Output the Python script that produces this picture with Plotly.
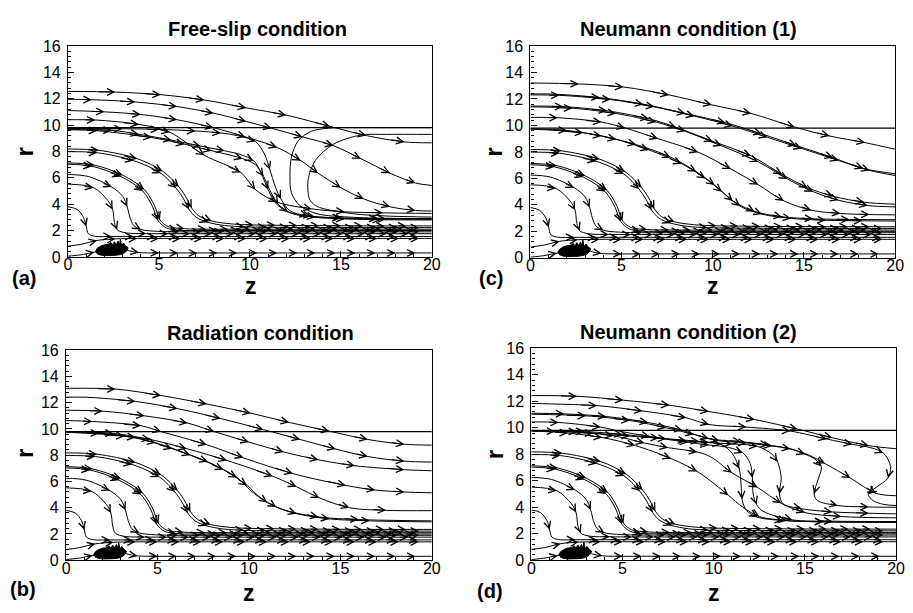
import plotly.graph_objects as go

FONT = "Liberation Sans, Arial, Helvetica, sans-serif"

# ---------------- data (z, r) ----------------
# boundary line (horizontal wall) present in every panel
WALL_R = 9.8

# streamlines shared by all four panels (lower-left region)
C1A = [(0, 8.18), (1.7, 8.08), (3.8, 7.45), (5.2, 6.5), (6.1, 5.3), (6.5, 4.5), (6.8, 3.7), (7.2, 3.1), (7.9, 2.72),
       (9.0, 2.5), (10.2, 2.42), (11.4, 2.4), (12.6, 2.38), (13.8, 2.37), (15.0, 2.36), (16.2, 2.35), (17.4, 2.35),
       (18.6, 2.35), (20, 2.35)]
C1B = [(0, 7.98), (1.6, 7.9), (3.6, 7.3), (5.1, 6.35), (5.95, 5.2), (6.35, 4.4), (6.65, 3.6), (7.05, 3.0), (7.7, 2.62),
       (8.6, 2.38), (9.7, 2.28), (10.9, 2.25), (12.1, 2.24), (13.3, 2.23), (14.5, 2.22), (15.7, 2.22), (16.9, 2.22),
       (18.1, 2.22), (19.3, 2.22), (20, 2.22)]
C2A = [(0, 7.13), (1.45, 6.96), (3.0, 6.2), (4.2, 5.1), (4.75, 3.9), (5.05, 2.8), (5.5, 2.3), (6.4, 2.14), (7.6, 2.1),
       (8.8, 2.1), (10.0, 2.1), (11.2, 2.1), (12.4, 2.1), (13.6, 2.1), (14.8, 2.1), (16.0, 2.1), (17.2, 2.1),
       (18.4, 2.1), (19.4, 2.1), (20, 2.1)]
C2B = [(0, 7.03), (1.3, 6.88), (2.9, 6.1), (4.1, 5.0), (4.65, 3.8), (4.95, 2.75), (5.4, 2.2), (6.0, 2.03), (7.0, 2.0),
       (8.2, 2.0), (9.4, 2.0), (10.6, 2.0), (11.8, 2.0), (13.0, 2.0), (14.2, 2.0), (15.4, 2.0), (16.6, 2.0),
       (17.8, 2.0), (19.0, 2.0), (20, 2.0)]
C3 = [(0, 6.25), (1.1, 6.1), (2.4, 5.3), (3.0, 4.6), (3.25, 3.8), (3.4, 3.0), (3.6, 2.4), (4.0, 2.08), (4.9, 1.94),
      (6.1, 1.9), (7.3, 1.9), (8.5, 1.9), (9.7, 1.9), (10.9, 1.9), (12.1, 1.9), (13.3, 1.9), (14.5, 1.9), (15.7, 1.9),
      (16.9, 1.9), (18.1, 1.9), (19.3, 1.9), (20, 1.9)]
C4 = [(0, 5.52), (1.4, 5.25), (2.2, 4.25), (2.45, 3.6), (2.55, 2.6), (2.7, 2.05), (3.2, 1.82), (4.3, 1.77), (5.5, 1.76),
      (6.7, 1.76), (7.9, 1.76), (9.1, 1.76), (10.3, 1.76), (11.5, 1.76), (12.7, 1.76), (13.9, 1.76), (15.1, 1.76),
      (16.3, 1.76), (17.5, 1.76), (18.7, 1.76), (20, 1.76)]
C5 = [(0, 3.8), (0.5, 3.6), (0.85, 3.0), (1.0, 2.3), (1.12, 1.75), (1.5, 1.56), (2.4, 1.55), (3.6, 1.55), (4.8, 1.55),
      (6.0, 1.55), (7.2, 1.55), (8.4, 1.55), (9.6, 1.55), (10.8, 1.55), (12.0, 1.55), (13.2, 1.55), (14.4, 1.55),
      (15.6, 1.55), (16.8, 1.55), (18.0, 1.55), (19.2, 1.55), (20, 1.55)]
D1 = [(0, 0.82), (0.7, 0.95), (1.6, 1.25), (2.6, 1.37), (3.8, 1.4), (5.0, 1.4), (6.2, 1.4), (7.4, 1.4), (8.6, 1.4),
      (9.8, 1.4), (11.0, 1.4), (12.2, 1.4), (13.4, 1.4), (14.6, 1.4), (15.8, 1.4), (17.0, 1.4), (18.2, 1.4),
      (19.3, 1.4), (20, 1.4)]
D2 = [(0, 0.05), (0.8, 0.18), (1.45, 0.36), (2.2, 0.45), (3.0, 0.62), (3.4, 0.45), (3.9, 0.33), (5.0, 0.3),
      (6.05, 0.3), (7.1, 0.3), (8.2, 0.3), (9.3, 0.3), (10.4, 0.3), (11.5, 0.3), (12.6, 0.3), (13.6, 0.3),
      (14.7, 0.3), (15.8, 0.3), (16.9, 0.3), (18.0, 0.3), (19.1, 0.3), (20, 0.3)]
COMMON_LINES = [C1A, C1B, C2A, C2B, C3, C4, C5, D1, D2]
NEAR_AXIS_LINES = [D1, D2]   # these carry more closely spaced arrowheads

# small recirculation blob near the axis
BLOB_Z = [1.5, 1.6, 1.8, 2.0, 2.2, 2.35, 2.45, 2.55, 2.65, 2.75, 2.82, 2.88, 2.92, 2.96, 3.05, 3.15, 3.3, 3.25,
          3.1, 2.9, 2.6, 2.3, 2.0, 1.75, 1.58]
BLOB_R = [0.4, 0.65, 0.82, 0.92, 0.95, 1.1, 0.9, 1.15, 0.92, 1.2, 0.9, 1.35, 1.0, 0.9, 1.05, 0.85, 0.7, 0.5,
          0.3, 0.18, 0.12, 0.1, 0.1, 0.15, 0.25]

# (a) Free-slip condition
A_A1 = [(0, 12.55), (2.6, 12.5), (5.1, 12.3), (7.5, 11.9), (9.8, 11.3), (12.0, 10.75), (14.4, 9.9), (16.4, 9.2),
        (18.5, 8.72), (20, 8.65)]
A_A2 = [(0, 11.95), (1.3, 11.92), (3.7, 11.75), (6.0, 11.4), (8.0, 10.9), (9.8, 10.27), (11.2, 9.75), (12.9, 9.1),
        (14.6, 8.43), (16.1, 7.45), (17.7, 6.35), (19.1, 5.6), (20, 5.42)]
A_A3 = [(0, 11.1), (2.0, 11.0), (4.0, 10.8), (6.0, 10.4), (8.0, 9.8), (9.76, 9.1), (11.5, 8.3), (12.8, 7.3),
        (13.75, 6.35), (15.0, 5.25), (16.25, 4.4), (17.7, 3.8), (19.1, 3.52), (20, 3.48)]
A_A4 = [(0, 10.4), (1.5, 10.38), (3.9, 10.05), (5.6, 9.45), (7.5, 7.7), (9.5, 6.4), (10.3, 5.1), (11.5, 4.15),
        (13.4, 3.64), (15.2, 3.42), (17.3, 3.34), (20, 3.3)]
A_B1 = [(0, 9.68), (2.4, 9.6), (3.9, 9.3), (5.7, 8.85), (7.3, 8.4), (8.6, 8.05), (9.5, 7.75), (10.2, 7.3),
        (10.6, 6.4), (11.0, 5.1), (11.4, 4.1), (12.1, 3.4), (13.4, 3.08), (15.0, 2.95), (17.0, 2.9), (20, 2.88)]
A_B2 = [(0, 9.64), (1.6, 9.57), (4.6, 9.05), (6.4, 8.55), (7.9, 8.05), (8.9, 7.72), (9.6, 7.45), (10.3, 7.0),
        (10.75, 6.1), (11.15, 4.9), (11.55, 4.0), (12.3, 3.3), (13.6, 3.0), (15.2, 2.88), (17.2, 2.82), (20, 2.8)]
A_B3 = [(0, 9.74), (3.0, 9.72), (5.0, 9.67), (7.0, 9.55), (8.4, 9.4), (9.3, 9.2), (10.3, 8.75), (10.8, 7.8),
        (11.1, 6.6), (11.4, 5.3), (11.7, 4.4), (12.2, 3.5), (13.2, 3.1), (15.0, 2.95), (17.5, 2.88), (20, 2.85)]
A_L1 = [(20, 9.8), (17.5, 9.8), (15.5, 9.8), (14.6, 9.79), (13.4, 9.54), (12.65, 8.8), (12.28, 7.57), (12.2, 6.1),
        (12.28, 4.87), (12.74, 3.89), (13.7, 3.27), (15.7, 3.0), (18.0, 2.92), (20, 2.9)]
A_L2 = [(20, 9.29), (17.5, 9.29), (16.1, 9.24), (14.6, 8.55), (13.6, 7.32), (13.2, 5.85), (13.28, 4.37), (13.6, 3.9),
        (14.1, 3.64), (15.7, 3.27), (17.5, 3.1), (20, 3.02)]

# (c) Neumann condition (1)
C_A1 = [(0, 13.2), (2.65, 13.13), (5.1, 12.9), (7.6, 12.3), (9.95, 11.55), (12.1, 10.9), (14.5, 9.87), (16.4, 9.2),
        (18.35, 8.7), (20, 8.2)]
C_A2 = [(0, 12.37), (1.1, 12.37), (3.8, 12.1), (6.2, 11.6), (8.5, 10.9), (10.7, 10.2), (12.7, 9.35), (14.6, 8.47),
        (16.6, 7.56), (18.25, 6.75), (20, 6.35)]
C_A2B = [(0, 12.3), (1.6, 12.27), (4.4, 11.95), (6.8, 11.4), (9.0, 10.7), (11.1, 9.95), (13.0, 9.1), (14.9, 8.25),
         (16.9, 7.35), (18.6, 6.6), (20, 6.22)]
C_A3 = [(0, 11.46), (1.8, 11.42), (4.2, 11.1), (6.5, 10.5), (8.0, 9.85), (10.0, 8.8), (12.1, 7.7), (13.8, 6.3),
        (15.2, 5.3), (16.6, 4.65), (18.3, 4.2), (20, 4.05)]
C_A3B = [(0, 11.4), (2.3, 11.3), (4.7, 10.9), (6.9, 10.25), (8.5, 9.55), (10.5, 8.45), (12.5, 7.25), (14.1, 5.95),
         (15.5, 5.0), (16.9, 4.35), (18.5, 3.95), (20, 3.85)]
C_A4 = [(0, 10.6), (1.5, 10.58), (3.9, 10.25), (5.2, 9.8), (7.0, 9.0), (9.2, 7.98), (11.0, 6.7), (12.5, 5.52),
        (13.9, 4.3), (15.4, 3.6), (17.0, 3.35), (18.6, 3.27), (20, 3.25)]
C_B1 = [(0, 9.75), (2.0, 9.62), (3.9, 9.2), (5.8, 8.55), (7.7, 7.6), (9.1, 6.5), (10.1, 5.5), (11.1, 4.3),
        (12.3, 3.5), (13.8, 3.1), (15.5, 2.95), (17.5, 2.9), (20, 2.88)]
C_B1B = [(0, 9.72), (2.9, 9.45), (4.7, 8.95), (6.5, 8.15), (8.3, 7.1), (9.6, 6.0), (10.5, 5.0), (11.5, 3.9),
         (12.7, 3.3), (14.3, 2.98), (16.2, 2.84), (18.2, 2.8), (20, 2.78)]

# (b) Radiation condition
B_A1 = [(0, 13.1), (2.7, 13.04), (5.2, 12.55), (7.7, 11.9), (10.1, 11.2), (12.2, 10.5), (14.4, 9.83), (16.5, 9.2),
        (18.5, 8.84), (20, 8.77)]
B_A2 = [(0, 12.42), (1.1, 12.42), (3.8, 12.1), (6.1, 11.55), (8.45, 10.8), (10.8, 9.95), (12.8, 9.2), (14.75, 8.47),
        (16.5, 7.9), (18.5, 7.55), (20, 7.48)]
B_A3 = [(0, 11.43), (2.0, 11.36), (4.3, 11.0), (6.65, 10.45), (8.1, 9.8), (10.0, 9.0), (11.9, 8.25), (13.8, 7.65),
        (15.8, 7.2), (18.5, 6.9), (20, 6.82)]
B_A4 = [(0, 10.64), (1.44, 10.57), (4.1, 10.25), (5.2, 9.8), (7.7, 8.8), (9.7, 7.8), (12.4, 6.6), (15.3, 5.7),
        (16.9, 5.35), (18.5, 5.2), (20, 5.14)]
B_B1 = [(0, 9.8), (2.6, 9.66), (4.6, 9.2), (6.6, 8.5), (8.8, 7.6), (11.3, 6.4), (12.6, 5.6), (13.85, 4.75),
        (15.5, 4.0), (17.5, 3.8), (20, 3.78)]
B_B2 = [(0, 9.78), (1.8, 9.67), (3.8, 9.35), (5.8, 8.5), (7.75, 7.5), (9.35, 6.3), (10.1, 5.3), (11.0, 4.4),
        (12.0, 3.8), (13.8, 3.3), (16.0, 3.1), (20, 3.0)]
B_B2B = [(0, 9.75), (3.2, 9.45), (4.9, 8.95), (6.8, 8.0), (8.6, 6.9), (9.9, 5.7), (10.6, 4.8), (11.5, 4.05),
         (12.6, 3.55), (14.4, 3.15), (16.6, 3.0), (20, 2.92)]

# (d) Neumann condition (2)
D_A1 = [(0, 12.43), (2.5, 12.38), (5.05, 12.08), (7.57, 11.7), (9.73, 11.23), (12.25, 10.62), (14.6, 9.9),
        (16.5, 9.25), (18.5, 8.65), (20, 8.42)]
D_A2 = [(0, 11.84), (1.1, 11.8), (3.6, 11.67), (6.1, 11.27), (8.5, 10.75), (9.73, 10.25), (11.8, 10.05),
        (14.2, 9.75), (16.2, 9.15), (17.6, 8.75), (18.6, 8.5), (19.3, 8.1), (19.7, 7.07), (19.55, 6.2), (18.9, 5.5),
        (18.47, 4.99), (18.74, 4.5), (19.3, 4.22), (20, 4.13)]
D_A3 = [(0, 11.1), (1.8, 11.05), (4.1, 10.85), (6.4, 10.4), (8.3, 9.8), (9.73, 9.17), (11.5, 8.95), (13.0, 8.7),
        (14.2, 8.4), (15.2, 7.95), (16.1, 7.3), (17.5, 6.2), (18.9, 5.05), (20, 4.87)]
D_A3B = [(0, 11.02), (3.0, 10.9), (5.4, 10.55), (7.4, 10.0), (8.9, 9.5), (10.3, 9.02), (11.8, 8.85), (13.2, 8.62),
         (14.2, 8.42), (15.0, 8.0), (15.5, 7.68), (15.9, 7.07), (15.75, 6.2), (15.5, 5.0), (15.7, 4.5), (16.8, 4.13),
         (18.5, 4.02), (20, 4.0)]
D_A4 = [(0, 10.44), (1.5, 10.4), (3.8, 10.05), (4.8, 9.75), (6.5, 9.35), (8.5, 9.0), (9.73, 8.88), (11.0, 8.78),
        (12.4, 8.6), (13.2, 8.0), (13.5, 7.43), (13.7, 6.2), (13.6, 5.0), (13.8, 4.26), (14.8, 3.89), (16.5, 3.65),
        (18.5, 3.55), (20, 3.5)]
D_S2 = [(0, 9.78), (2.9, 9.72), (5.0, 9.5), (7.0, 9.2), (8.6, 8.9), (9.73, 8.7), (10.8, 8.52), (11.6, 8.1),
        (12.0, 7.3), (12.12, 6.2), (12.16, 5.0), (12.35, 4.2), (12.7, 3.7), (14.3, 3.05), (16.5, 2.95), (20, 2.92)]
D_S1 = [(0, 9.76), (1.3, 9.73), (3.4, 9.58), (5.4, 9.37), (7.4, 9.17), (9.2, 8.97), (10.4, 8.75), (11.0, 8.1),
        (11.4, 6.9), (11.5, 5.7), (11.55, 4.6), (11.8, 3.75), (12.4, 3.25), (13.8, 3.0), (16.0, 2.9), (20, 2.88)]
D_B1 = [(0, 9.76), (2.0, 9.6), (3.87, 9.27), (5.7, 8.66), (7.66, 7.68), (9.1, 6.7), (10.0, 5.8), (10.8, 4.9),
        (11.6, 4.0), (12.5, 3.3), (14.0, 3.0), (16.0, 2.9), (20, 2.85)]
D_B2 = [(0, 9.78), (2.5, 9.7), (4.5, 9.4), (6.2, 8.85), (7.5, 8.5), (9.1, 8.17), (9.84, 7.8), (11.0, 6.6),
        (12.4, 5.5), (13.7, 4.3), (15.0, 3.6), (17.0, 3.3), (20, 3.2)]

PANEL_TITLES = ["Free-slip condition", "Neumann condition (1)", "Radiation condition", "Neumann condition (2)"]
PANEL_TAGS = ["(a)", "(c)", "(b)", "(d)"]
X_TICKS = [0, 5, 10, 15, 20]
Y_TICKS = [0, 2, 4, 6, 8, 10, 12, 14, 16]

PANEL_LINES = [
    [A_A1, A_A2, A_A3, A_A4, A_B1, A_B2, A_B3],
    [C_A1, C_A2, C_A2B, C_A3, C_A3B, C_A4, C_B1, C_B1B],
    [B_A1, B_A2, B_A3, B_A4, B_B1, B_B2, B_B2B],
    [D_A1, D_A2, D_A3, D_A3B, D_A4, D_S2, D_S1, D_B1, D_B2],
]
PANEL_LOOPS = [[A_L1, A_L2], [], [], []]

# ---------------- layout geometry (pixels of the 913x613 page) ----------------
W, H = 913, 613
BOXES = [  # left, right, top, bottom
    (65, 434, 39, 256),
    (534, 904, 39, 257),
    (63, 434, 352, 568),
    (535, 905, 350, 568),
]
TITLE_POS = [(257, 22), (694, 22), (260, 334), (694, 333)]
TAG_POS = [(20, 278), (494, 278), (19, 598), (493, 600)]
ZLAB_POS = [(251, 286), (719, 286), (249, 602), (720, 602)]
RLAB_POS = [(21, 148), (497, 148), (21, 458), (497, 459)]

SX = 369 / 20.0
SY = 217 / 16.0
TAIL_FRAC = 0.35


def arrow_indices(pts, gap):
    idx = []
    acc = 0.0
    for i in range(1, len(pts)):
        dz = (pts[i][0] - pts[i - 1][0]) * SX
        dr = (pts[i][1] - pts[i - 1][1]) * SY
        acc += (dz * dz + dr * dr) ** 0.5
        if i < len(pts) - 1 and acc >= gap:
            idx.append(i)
            acc = 0.0
    return idx


fig = go.Figure()
annotations = []


def add_stream(pts, xa, ya, arrows=True, gap=21):
    z = [p[0] for p in pts]
    r = [p[1] for p in pts]
    fig.add_trace(go.Scatter(
        x=z, y=r, xaxis=xa, yaxis=ya, mode="lines",
        line=dict(color="black", width=1, shape="spline", smoothing=0.9),
        hoverinfo="skip", showlegend=False))
    if not arrows:
        return
    for i in arrow_indices(pts, gap):
        annotations.append(dict(
            x=z[i], y=r[i], ax=z[i] - TAIL_FRAC * (z[i] - z[i - 1]), ay=r[i] - TAIL_FRAC * (r[i] - r[i - 1]),
            xref=xa, yref=ya, axref=xa, ayref=ya, showarrow=True, arrowhead=5, arrowsize=1.35,
            arrowwidth=1, arrowcolor="black", standoff=0, startstandoff=0, text=" ",
            font=dict(size=1), borderpad=0, borderwidth=0))


for k in range(4):
    sfx = "" if k == 0 else str(k + 1)
    xa, ya = "x" + sfx, "y" + sfx
    # wall line
    fig.add_trace(go.Scatter(x=[X_TICKS[0], X_TICKS[-1]], y=[WALL_R, WALL_R], xaxis=xa, yaxis=ya, mode="lines",
                             line=dict(color="black", width=1.3), hoverinfo="skip", showlegend=False))
    for pts in COMMON_LINES + PANEL_LINES[k]:
        add_stream(pts, xa, ya, gap=17 if any(pts is q for q in NEAR_AXIS_LINES) else 21)
    for pts in PANEL_LOOPS[k]:
        add_stream(pts, xa, ya, arrows=False)
    fig.add_trace(go.Scatter(x=BLOB_Z, y=BLOB_R, xaxis=xa, yaxis=ya, mode="lines", fill="toself",
                             fillcolor="black", line=dict(color="black", width=1),
                             hoverinfo="skip", showlegend=False))

    L, R, T, B = BOXES[k]
    common_ax = dict(showgrid=False, zeroline=False, showline=True, linecolor="black", linewidth=1.3, mirror=True,
                     ticks="inside", ticklen=6, tickwidth=1, tickcolor="black",
                     tickfont=dict(family=FONT, size=16, color="black"))
    fig.layout["xaxis" + sfx] = dict(
        domain=[L / W, R / W], anchor=ya, range=[0, 20], tickvals=X_TICKS, ticklabelstandoff=-7,
        minor=dict(ticks="inside", ticklen=3, dtick=1, tickcolor="black", tickwidth=1), **common_ax)
    fig.layout["yaxis" + sfx] = dict(
        domain=[1 - B / H, 1 - T / H], anchor=xa, range=[0, 16], tickvals=Y_TICKS, ticklabelstandoff=3,
        minor=dict(ticks="inside", ticklen=3, dtick=0.4, tickcolor="black", tickwidth=1), **common_ax)

for k in range(4):
    tx, ty = TITLE_POS[k]
    annotations.append(dict(text="<b>%s</b>" % PANEL_TITLES[k], x=tx / W, y=1 - ty / H, xref="paper", yref="paper",
                            showarrow=False, xanchor="center", yanchor="middle",
                            font=dict(family=FONT, size=20, color="black")))
    gx, gy = TAG_POS[k]
    annotations.append(dict(text="<b>%s</b>" % PANEL_TAGS[k], x=gx / W, y=1 - gy / H, xref="paper", yref="paper",
                            showarrow=False, xanchor="center", yanchor="middle",
                            font=dict(family=FONT, size=20, color="black")))
    zx, zy = ZLAB_POS[k]
    annotations.append(dict(text="<b>z</b>", x=zx / W, y=1 - zy / H, xref="paper", yref="paper",
                            showarrow=False, xanchor="center", yanchor="middle",
                            font=dict(family=FONT, size=23, color="black")))
    rx, ry = RLAB_POS[k]
    annotations.append(dict(text="<b>r</b>", x=rx / W, y=1 - ry / H, xref="paper", yref="paper",
                            showarrow=False, xanchor="center", yanchor="middle", textangle=-90,
                            font=dict(family=FONT, size=24, color="black")))

fig.update_layout(width=W, height=H, margin=dict(l=0, r=0, t=0, b=0), paper_bgcolor="white",
                  plot_bgcolor="white", annotations=annotations, showlegend=False)

fig.write_html("out.html")
